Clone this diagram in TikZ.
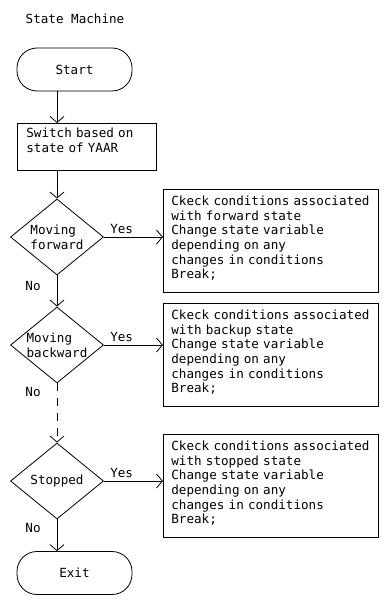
\documentclass[tikz,border=0pt]{standalone}
\usepackage{fontspec}
\setmainfont{DejaVu Sans Mono}
\usetikzlibrary{arrows.meta,shapes.geometric}

\begin{document}
\begin{tikzpicture}[x=1pt,y=1pt,line width=0.8pt]
\tikzstyle{every node}+=[font=\fontsize{12.6}{14.7}\selectfont,inner sep=0pt]
\tikzstyle{term}=[draw,rounded corners=20pt,minimum width=115pt,minimum height=43pt]
\tikzstyle{proc}=[draw,anchor=north west,align=left,inner xsep=9pt,text width=121pt,text height=14pt,text depth=33pt]
\tikzstyle{decide}=[draw,diamond,aspect=1.2,minimum width=93pt,minimum height=76pt,align=left]
\tikzstyle{action}=[draw,anchor=north west,align=left,inner xsep=8pt,text width=199pt,text height=16pt,text depth=87pt]
\tikzstyle{flow}=[-{Straight Barb[length=6pt,width=14pt]}]
\useasboundingbox (0,0) rectangle (386,-607);
\node (title) at (75,-19) {State Machine};
\node [term] (start) at (74.5,-69.5) {Start};
\node [proc] (switch) at (17,-123) {Switch based on\\state of YAAR};
\node [decide] (fwd) at (57,-237) {Moving\\forward};
\node [decide] (back) at (57,-345) {Moving\\backward};
\node [decide] (stop) at (57,-481) {Stopped};
\node [term] (exit) at (74.5,-573) {Exit};
\node [action] (fwdact) at (163,-189) {Ckeck conditions associated\\with forward state\\Change state variable\\depending on any\\changes in conditions\\Break;};
\node [action] (backact) at (163,-303) {Ckeck conditions associated\\with backup state\\Change state variable\\depending on any\\changes in conditions\\Break;};
\node [action] (stopact) at (163,-434) {Ckeck conditions associated\\with stopped state\\Change state variable\\depending on any\\changes in conditions\\Break;};
\node (no1) at (33,-286) {No};
\node (no2) at (33,-392) {No};
\node (no3) at (33,-528) {No};
\draw [flow] (start.south -| fwd.north) -- (fwd.north |- switch.north);
\draw [flow] (switch.south -| fwd.north) -- (fwd.north);
\draw [flow] (fwd.south) -- (back.north);
\draw [flow,dash pattern=on 8pt off 7pt] (back.south) -- (stop.north);
\draw [flow] (stop.south) -- (stop.south |- exit.north);
\draw [flow] (fwd.east) -- (fwd.east -| fwdact.west) node [pos=0.3,above=3pt] (yes1) {Yes};
\draw [flow] (back.east) -- (back.east -| backact.west) node [pos=0.3,above=3pt] (yes2) {Yes};
\draw [flow] (stop.east) -- (stop.east -| stopact.west) node [pos=0.3,above=3pt] (yes3) {Yes};
\end{tikzpicture}
\end{document}
